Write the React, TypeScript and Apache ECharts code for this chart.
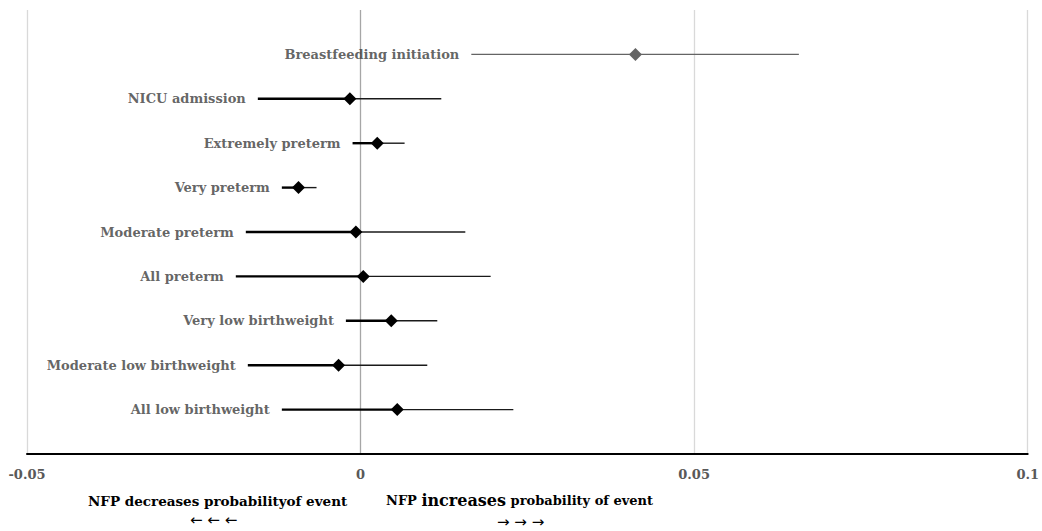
import React, { useEffect, useRef } from "react";
import * as echarts from "echarts";

const categories = [
  "Breastfeeding initiation",
  "NICU admission",
  "Extremely preterm",
  "Very preterm",
  "Moderate preterm",
  "All preterm",
  "Very low birthweight",
  "Moderate low birthweight",
  "All low birthweight",
];
const estimates = [0.0412, -0.0016, 0.0025, -0.0093, -0.0007, 0.0004, 0.0046, -0.0033, 0.0055];
const lows = [0.0166, -0.0154, -0.0012, -0.0118, -0.0172, -0.0187, -0.0022, -0.0169, -0.0118];
const highs = [0.0657, 0.0121, 0.0066, -0.0066, 0.0157, 0.0195, 0.0115, 0.01, 0.0229];
const xTicks = [-0.05, 0, 0.05, 0.1];

const FONT = "'DejaVu Serif', serif";

export default function App() {
  const ref = useRef<HTMLDivElement>(null);
  useEffect(() => {
    if (!ref.current) return;
    const chart = echarts.init(ref.current, undefined, { renderer: "svg" });
    const rowY = categories.map((_, i) => categories.length - i);
    const colorOf = (i: number) => (i === 0 ? "#646464" : "#000000");
    chart.setOption({
      animation: false,
      backgroundColor: "#ffffff",
      grid: { left: 27, right: 11, top: 10, bottom: 77 },
      xAxis: {
        type: "value",
        min: -0.05,
        max: 0.1,
        interval: 0.05,
        axisLine: { show: true, onZero: false, lineStyle: { color: "#000", width: 2 } },
        axisTick: { show: false },
        axisLabel: {
          margin: 14,
          color: "#595959",
          fontFamily: FONT,
          fontWeight: "bold",
          fontSize: 13,
          formatter: (v: number) => {
            const r = Math.round(v * 100) / 100;
            return xTicks.includes(r) ? String(r) : "";
          },
        },
        splitLine: {
          show: true,
          lineStyle: { color: ["#d9d9d9", "#a6a6a6", "#d9d9d9", "#d9d9d9"], width: 1.3 },
        },
      },
      yAxis: { type: "value", min: 0, max: 10, show: false },
      series: [
        {
          type: "custom",
          data: categories.map((_, i) => [lows[i], estimates[i], highs[i], rowY[i]]),
          renderItem: (params: any, api: any) => {
            const i = params.dataIndex;
            const y = api.value(3);
            const pl = api.coord([api.value(0), y]);
            const pe = api.coord([api.value(1), y]);
            const ph = api.coord([api.value(2), y]);
            const c = colorOf(i);
            return {
              type: "group",
              children: [
                {
                  type: "line",
                  shape: { x1: pl[0], y1: pl[1], x2: pe[0], y2: pe[1] },
                  style: { stroke: c, lineWidth: i === 0 ? 1.4 : 2.4 },
                },
                {
                  type: "line",
                  shape: { x1: pe[0], y1: pe[1], x2: ph[0], y2: ph[1] },
                  style: { stroke: i === 0 ? c : "#1a1a1a", lineWidth: 1.4 },
                },
              ],
            };
          },
          z: 2,
        },
        {
          type: "scatter",
          symbol: "diamond",
          symbolSize: [13, 13],
          data: categories.map((_, i) => ({
            value: [estimates[i], rowY[i]],
            itemStyle: { color: colorOf(i), opacity: 1 },
          })),
          z: 3,
        },
        {
          type: "scatter",
          symbolSize: 0,
          silent: true,
          data: categories.map((c, i) => ({ value: [lows[i], rowY[i]], name: c })),
          label: {
            show: true,
            position: "left",
            distance: 12,
            formatter: (p: any) => p.name,
            color: "#3c3c3c",
            fontFamily: FONT,
            fontWeight: "bold",
            fontSize: 13,
          },
          z: 4,
        },
      ],
      graphic: [
        {
          type: "text",
          left: 88,
          top: 494,
          style: {
            text: "NFP decreases probabilityof event",
            fill: "#000",
            font: `bold 13.5px ${FONT}`,
          },
        },
        {
          type: "text",
          x: 190,
          y: 520,
          style: {
            text: "← ← ←",
            fill: "#000",
            font: "15px 'DejaVu Sans', sans-serif",
            verticalAlign: "middle",
          },
        },
        {
          type: "text",
          left: 386,
          top: 492,
          style: {
            text: "{a|NFP }{b|increases}{a| probability of event}",
            rich: {
              a: { fill: "#000", font: `bold 13px ${FONT}` },
              b: { fill: "#000", font: `bold 16px ${FONT}` },
            },
          },
        },
        {
          type: "text",
          x: 497,
          y: 522,
          style: {
            text: "→ → →",
            fill: "#000",
            font: "15px 'DejaVu Sans', sans-serif",
            verticalAlign: "middle",
          },
        },
      ],
    });
    return () => chart.dispose();
  }, []);
  return (
    <div
      ref={ref}
      style={{ position: "fixed", left: 0, top: 0, width: 1042, height: 531 }}
    />
  );
}
